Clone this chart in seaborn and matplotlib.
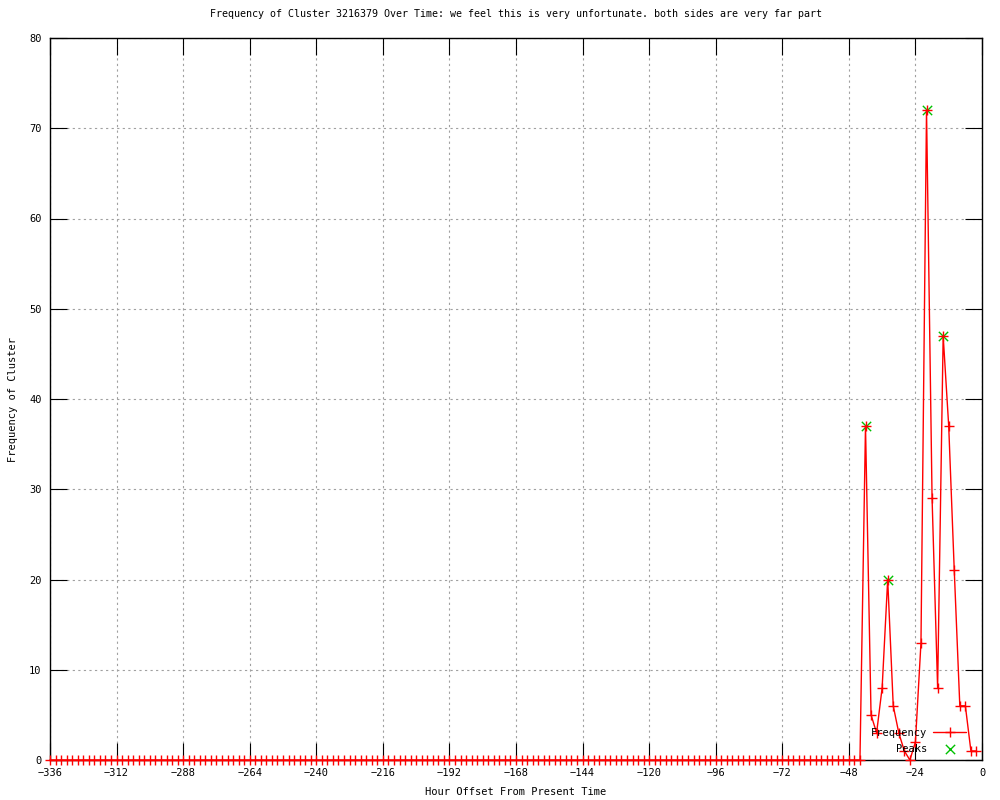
import numpy as np
import pandas as pd
import matplotlib
matplotlib.use("Agg")
import matplotlib.pyplot as plt
import seaborn as sns

# ---- data ----
hours = list(range(-336, 0, 2))  # bins every 2 hours
frequency = [
    0, 0, 0, 0, 0, 0, 0, 0, 0, 0, 0, 0, 0, 0, 0, 0, 0, 0, 0, 0,
    0, 0, 0, 0, 0, 0, 0, 0, 0, 0, 0, 0, 0, 0, 0, 0, 0, 0, 0, 0,
    0, 0, 0, 0, 0, 0, 0, 0, 0, 0, 0, 0, 0, 0, 0, 0, 0, 0, 0, 0,
    0, 0, 0, 0, 0, 0, 0, 0, 0, 0, 0, 0, 0, 0, 0, 0, 0, 0, 0, 0,
    0, 0, 0, 0, 0, 0, 0, 0, 0, 0, 0, 0, 0, 0, 0, 0, 0, 0, 0, 0,
    0, 0, 0, 0, 0, 0, 0, 0, 0, 0, 0, 0, 0, 0, 0, 0, 0, 0, 0, 0,
    0, 0, 0, 0, 0, 0, 0, 0, 0, 0, 0, 0, 0, 0, 0, 0, 0, 0, 0, 0,
    0, 0, 0, 0, 0, 0,
    # -44 .. -2
    0, 37, 5, 3, 8, 20, 6, 3, 1, 0, 2, 13, 72, 29, 8, 47, 37, 21, 6, 6, 1, 1,
]
peak_hours = [-42, -34, -20, -14]
peak_values = [37, 20, 72, 47]

x_ticks = [-336, -312, -288, -264, -240, -216, -192, -168, -144, -120, -96, -72, -48, -24, 0]
y_ticks = [0, 10, 20, 30, 40, 50, 60, 70, 80]

title = "Frequency of Cluster 3216379 Over Time: we feel this is very unfortunate. both sides are very far part"
x_label = "Hour Offset From Present Time"
y_label = "Frequency of Cluster"

df = pd.DataFrame({"hour": hours, "freq": frequency})
peaks = pd.DataFrame({"hour": peak_hours, "freq": peak_values})

# ---- style ----
sns.set_theme(style="white")
plt.rcParams["font.family"] = ["DejaVu Sans Mono"]
plt.rcParams["font.size"] = 7.5
for k in ["text.color", "axes.labelcolor", "xtick.color", "ytick.color"]:
    plt.rcParams[k] = "black"

fig = plt.figure(figsize=(10, 8), dpi=100)
ax = fig.add_axes([0.05, 0.05, 0.932, 0.9025])

sns.scatterplot(data=peaks, x="hour", y="freq", marker="x", color="#00c000",
                s=45, linewidth=1.0, ax=ax, zorder=3, label="Peaks", legend=False)
sns.lineplot(data=df, x="hour", y="freq", color="#ff0000", linewidth=1.0,
             marker="+", markersize=7.5, markeredgewidth=1.0, markeredgecolor="#ff0000",
             ax=ax, zorder=4, label="Frequency", legend=False)
for ln in ax.get_lines():
    ln.set_clip_on(False)

ax.set_xlim(-336, 0)
ax.set_ylim(0, 80)
ax.set_xticks(x_ticks)
ax.set_yticks(y_ticks)
ax.set_xticklabels([str(v).replace("-", "\u2212") for v in x_ticks])
ax.tick_params(direction="in", length=12, width=0.8, color="black",
               labelcolor="black",
               top=True, right=True, bottom=True, left=True,
               labelsize=7.5, pad=6)
ax.grid(True, color="#a0a0a0", linestyle=(0, (2, 3)), linewidth=0.8)
for s in ax.spines.values():
    s.set_color("black")
    s.set_linewidth(1.0)
    s.set_visible(True)

ax.set_title(title, fontsize=7.2, pad=15, color="black")
ax.set_xlabel(x_label, fontsize=7.5, labelpad=6, color="black")
ax.set_ylabel(y_label, fontsize=7.5, labelpad=8, color="black")

h_line, l_line = ax.get_legend_handles_labels()
order = {l: h for h, l in zip(h_line, l_line)}
leg = ax.legend([order["Frequency"], order["Peaks"]], ["Frequency", "Peaks"],
                loc="lower right", bbox_to_anchor=(0.99, 0.0), frameon=False,
                markerfirst=False, handlelength=3.2, handletextpad=0.6,
                labelspacing=0.55, fontsize=7.5, borderaxespad=0.2,
                labelcolor="black")
try:
    leg._legend_handle_box.get_children()[0].align = "right"
except Exception:
    pass

fig.savefig("out.png", dpi=100)
